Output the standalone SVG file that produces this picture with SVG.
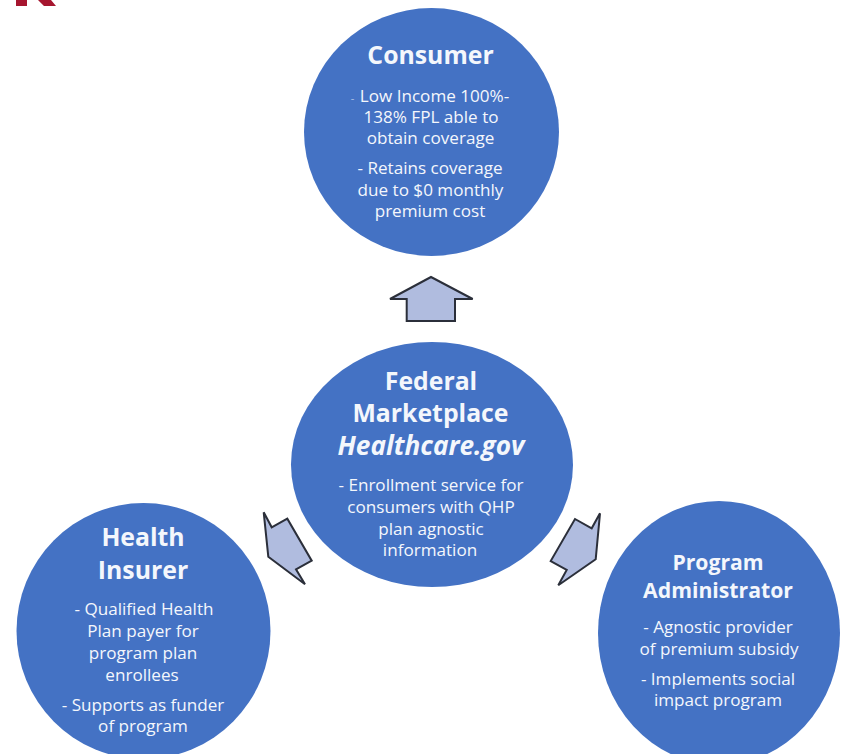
<svg xmlns="http://www.w3.org/2000/svg" width="843" height="754" viewBox="0 0 843 754">
<style>
.c{fill:#4472c4}
.a{fill:#b0bcdf;stroke:#2b2f3a;stroke-width:2;stroke-linejoin:miter}
text{font-family:"Open Sans","Noto Sans",sans-serif;fill:#f4f7fc;text-anchor:middle}
.h{font-size:24.800px;font-weight:700}
.h2{font-size:21.200px;font-weight:700}
.b{font-size:17.100px}
.d{font-size:11px;opacity:.6}
.i{font-size:26.200px;font-weight:700;font-style:italic}
</style>
<rect width="843" height="754" fill="#fff"/>
<path d="M16 0H27V6H16ZM38 0H51L56 6H44Z" fill="#a6162f"/>
<g id="consumer"><ellipse class="c" cx="431.500" cy="132" rx="127.500" ry="124"/>
<text class="h" x="430.500" y="64">Consumer</text>
<text class="d" x="352.500" y="102">-</text>
<text class="b" x="434.500" y="102">Low Income 100%-</text>
<text class="b" x="431" y="123">138% FPL able to</text>
<text class="b" x="430.500" y="144">obtain coverage</text>
<text class="b" x="430" y="174">- Retains coverage</text>
<text class="b" x="430.500" y="196">due to $0 monthly</text>
<text class="b" x="430" y="217">premium cost</text></g>
<g id="federal"><ellipse class="c" cx="432" cy="464.500" rx="141" ry="122.500"/>
<text class="h" x="431" y="390">Federal</text>
<text class="h" x="430.500" y="422">Marketplace</text>
<text class="i" x="431" y="455">Healthcare.gov</text>
<text class="b" x="431" y="491">- Enrollment service for</text>
<text class="b" x="431" y="513">consumers with QHP</text>
<text class="b" x="431" y="535">plan agnostic</text>
<text class="b" x="430" y="556">information</text></g>
<g id="insurer"><ellipse class="c" cx="143.500" cy="631" rx="127" ry="128"/>
<text class="h" x="143" y="546">Health</text>
<text class="h" x="143" y="579">Insurer</text>
<text class="b" x="144" y="615">- Qualified Health</text>
<text class="b" x="143" y="637">Plan payer for</text>
<text class="b" x="143" y="659">program plan</text>
<text class="b" x="142" y="681">enrollees</text>
<text class="b" x="143" y="711">- Supports as funder</text>
<text class="b" x="143" y="732">of program</text></g>
<g id="administrator"><ellipse class="c" cx="719" cy="633" rx="121" ry="132"/>
<text class="h2" x="718" y="570">Program</text>
<text class="h2" x="718" y="598">Administrator</text>
<text class="b" x="718" y="633">- Agnostic provider</text>
<text class="b" x="719" y="655">of premium subsidy</text>
<text class="b" x="718" y="685">- Implements social</text>
<text class="b" x="718" y="706">impact program</text></g>
<g id="connectors">
<path class="a" d="M431 277L472.700 299H455V321H406.700V299H390Z"/>
<path class="a" d="M263.700 512.300L271.700 527.300L287.300 518.700L311.700 560.700L296 569.300L305 584.300L268.300 556.700Z"/>
<path class="a" d="M600 513.300L591.700 528.300L575 519L550.700 561L566.700 570L558.300 585.300L595.700 559.300Z"/>
</g>
</svg>
